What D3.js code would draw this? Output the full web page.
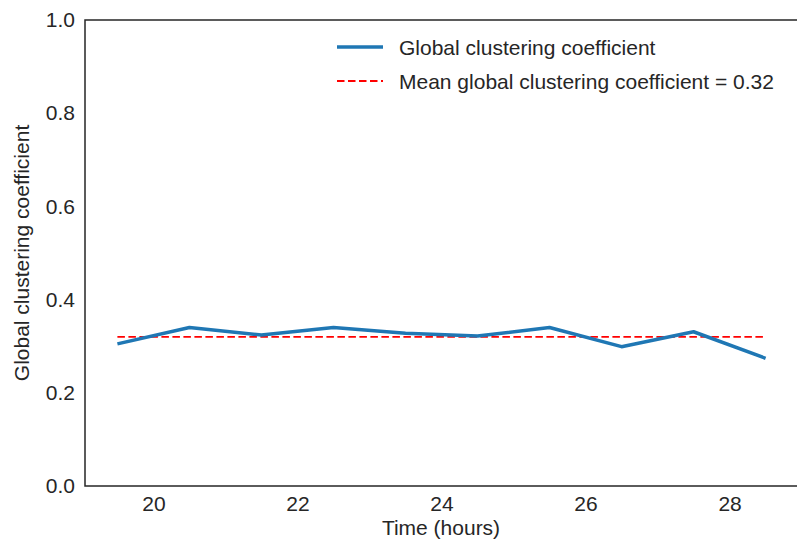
<!DOCTYPE html>
<html>
<head>
<meta charset="utf-8">
<script src="https://cdn.jsdelivr.net/npm/d3@7"></script>
<style>
  body { margin: 0; background: #fff; }
  text { font-family: "Liberation Sans", Arial, sans-serif; fill: #262626; }
</style>
</head>
<body>
<div id="chart"></div>
<script>
// hours and clustering values
const hours = [19.5, 20.5, 21.5, 22.5, 23.5, 24.5, 25.5, 26.5, 27.5, 28.5];
const clustering = [0.305, 0.340, 0.324, 0.340, 0.328, 0.322, 0.340, 0.299, 0.331, 0.274];
const meanValue = 0.32;
const xTicks = [20, 22, 24, 26, 28];
const yTicks = [0.0, 0.2, 0.4, 0.6, 0.8, 1.0];

const width = 797, height = 544;
const margin = { left: 85, top: 20, right: -1, bottom: 58 };
const fontSize = 21;
const dash = "7.5,3.5";

const svg = d3.select("#chart").append("svg")
    .attr("width", width)
    .attr("height", height);

// x domain includes matplotlib-style 5% padding
const pad = (hours[hours.length - 1] - hours[0]) * 0.05;
const x = d3.scaleLinear()
    .domain([hours[0] - pad, hours[hours.length - 1] + pad])
    .range([margin.left, width - margin.right]);

const y = d3.scaleLinear()
    .domain([0, 1])
    .range([height - margin.bottom, margin.top]);

// axes without tick marks
const xAxis = svg.append("g")
    .attr("transform", `translate(0,${height - margin.bottom})`)
    .call(d3.axisBottom(x).tickValues(xTicks).tickSize(0).tickPadding(10).tickFormat(d3.format("d")));
xAxis.select(".domain").remove();
xAxis.selectAll("text").attr("font-size", fontSize).attr("fill", "#262626");

const yAxis = svg.append("g")
    .attr("transform", `translate(${margin.left},0)`)
    .call(d3.axisLeft(y).tickValues(yTicks).tickSize(0).tickPadding(10).tickFormat(d3.format(".1f")));
yAxis.select(".domain").remove();
yAxis.selectAll("text").attr("font-size", fontSize).attr("fill", "#262626");

// mean line
svg.append("line")
    .attr("x1", x(hours[0]))
    .attr("x2", x(hours[hours.length - 1]))
    .attr("y1", y(meanValue))
    .attr("y2", y(meanValue))
    .attr("stroke", "#ff0000")
    .attr("stroke-width", 1.8)
    .attr("stroke-dasharray", dash);

// clustering series
const line = d3.line()
    .x((d, i) => x(hours[i]))
    .y(d => y(d));

svg.append("path")
    .datum(clustering)
    .attr("d", line)
    .attr("fill", "none")
    .attr("stroke", "#1f77b4")
    .attr("stroke-width", 3.5)
    .attr("stroke-linejoin", "round");

// frame
svg.append("rect")
    .attr("x", margin.left)
    .attr("y", margin.top)
    .attr("width", x.range()[1] - margin.left)
    .attr("height", y.range()[0] - margin.top)
    .attr("fill", "none")
    .attr("stroke", "#262626")
    .attr("stroke-width", 1.5);

// legend
const legend = svg.append("g");
legend.append("line")
    .attr("x1", 337).attr("x2", 383).attr("y1", 47).attr("y2", 47)
    .attr("stroke", "#1f77b4").attr("stroke-width", 3.5);
legend.append("text")
    .attr("x", 399).attr("y", 47).attr("dy", "0.38em")
    .attr("font-size", fontSize)
    .text("Global clustering coefficient");
legend.append("line")
    .attr("x1", 337).attr("x2", 383).attr("y1", 81).attr("y2", 81)
    .attr("stroke", "#ff0000").attr("stroke-width", 1.8)
    .attr("stroke-dasharray", dash);
legend.append("text")
    .attr("x", 399).attr("y", 81).attr("dy", "0.38em")
    .attr("font-size", fontSize)
    .text(`Mean global clustering coefficient = ${meanValue.toFixed(2)}`);

// axis labels
svg.append("text")
    .attr("x", 441)
    .attr("y", 535)
    .attr("text-anchor", "middle")
    .attr("font-size", fontSize)
    .text("Time (hours)");

svg.append("text")
    .attr("transform", `translate(29,${(margin.top + y.range()[0]) / 2}) rotate(-90)`)
    .attr("text-anchor", "middle")
    .attr("font-size", fontSize)
    .text("Global clustering coefficient");
</script>
</body>
</html>
